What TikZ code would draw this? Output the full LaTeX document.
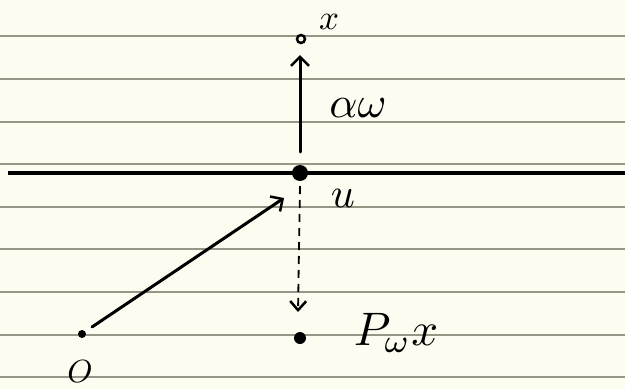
\documentclass[tikz,border=0pt]{standalone}
\usetikzlibrary{arrows.meta,calc}
\definecolor{paper}{RGB}{253,252,240}
\definecolor{rule}{RGB}{150,150,135}
\begin{document}
\begin{tikzpicture}[x=1pt,y=-1pt,
  ruled/.style={rule,line width=2pt},
  ink/.style={black,line width=3pt,line cap=round},
  opentip/.style={-{Straight Barb[length=9pt,width=18pt,line width=2.5pt]}},
  lbl/.style={inner sep=0pt,transform shape}]
\fill[paper] (0,0) rectangle (625,389);
\useasboundingbox (0,0) rectangle (625,389);
\foreach \y in {36,79,122,164,207,249,292,335,377}
  \draw[ruled] (0,\y) -- (625,\y);
% axis
\coordinate (al) at (8,173);
\coordinate (ar) at (625,173);
\draw[black,line width=3.2pt] (al) -- (ar);
% points
\node[circle,fill=black,inner sep=0,minimum size=16pt] (u) at (300,173) {};
\node[circle,draw=black,line width=2.5pt,fill=paper,inner sep=0,minimum size=8pt] (x) at (301,39) {};
\node[circle,fill=black,inner sep=0,minimum size=12pt] (p) at (300,338) {};
\node[circle,fill=black,inner sep=0,minimum size=8pt] (o) at (82,334) {};
\coordinate (us) at (300,152);
\coordinate (xe) at (300,55);
\coordinate (os) at (92,327);
\coordinate (oe) at (284,198);
\coordinate (ds) at (300,186);
\coordinate (de) at (298,312);
% arrows
\draw[ink,opentip] (us) -- (xe);
\draw[ink,opentip] (os) -- (oe);
\draw[black,line width=1.8pt,dash pattern=on 8pt off 6pt,-{Straight Barb[length=9pt,width=16pt,line width=2.5pt]}] (ds) -- (de);
% labels
\node[lbl,scale=3.5] (lx) at (329,22) {$x$};
\node[lbl,scale=4.4] (law) at (358,108) {$\alpha\omega$};
\node[lbl,scale=4.2] (lu) at (343,198) {$u$};
\node[lbl,scale=4.7] (lp) at (396,333) {$P_{\omega}x$};
\node[lbl,scale=3.2] (lo) at (80,372) {$O$};
\end{tikzpicture}
\end{document}
